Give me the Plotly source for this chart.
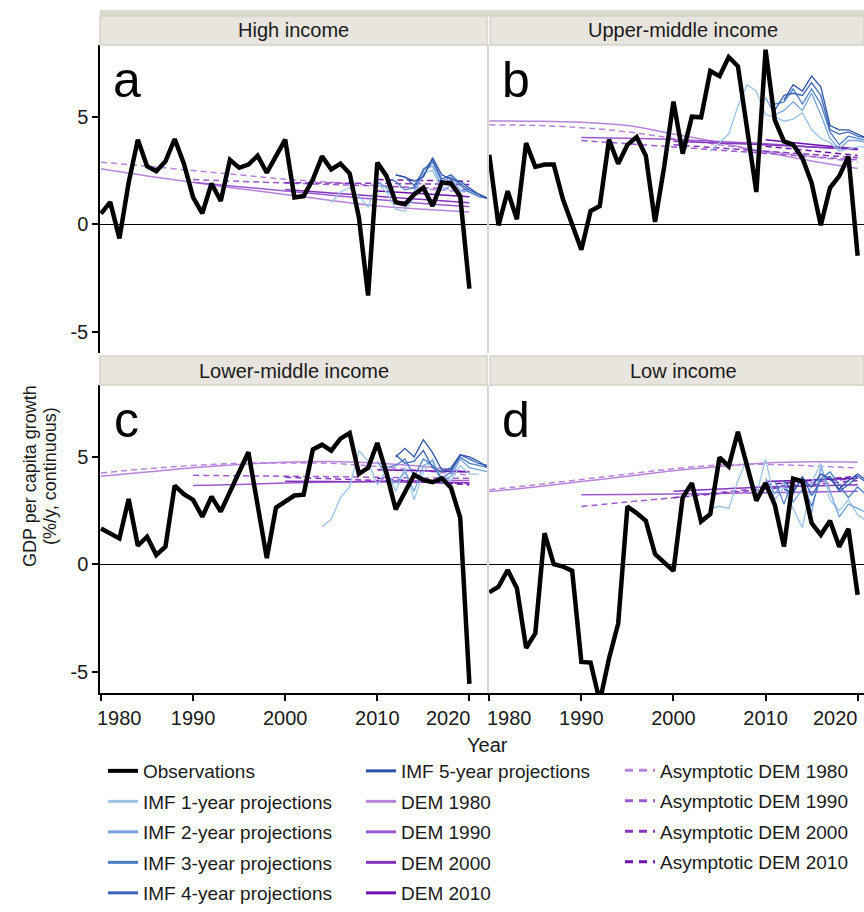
import plotly.graph_objects as go

W, H = 864, 912
FONT = "Liberation Sans, Arial, Helvetica, sans-serif"

# ---------------- data ----------------
YEARS = list(range(1980, 2021))

OBS_HIGH = [0.5, 1.03, -0.66, 1.94, 3.94, 2.7, 2.47, 2.93, 3.97, 2.82,
            1.25, 0.51, 1.9, 1.08, 3.0, 2.63, 2.78, 3.19, 2.4, 3.16,
            3.94, 1.25, 1.31, 2.08, 3.16, 2.55, 2.82, 2.36, 0.32, -3.32,
            2.87, 2.24, 1.02, 0.93, 1.39, 1.7, 0.85, 1.94, 1.9, 1.31, -3.0]
OBS_UPPER = [3.24, -0.05, 1.54, 0.23, 3.78, 2.67, 2.78, 2.78, 1.16, -0.08,
             -1.19, 0.62, 0.85, 3.94, 2.82, 3.7, 4.06, 3.19, 0.11, 2.7,
             5.71, 3.29, 5.01, 4.98, 7.14, 6.9, 7.79, 7.36, 4.55, 1.5,
             8.13, 4.86, 3.86, 3.7, 3.08, 1.93, -0.05, 1.7, 2.24, 3.16, -1.47]
OBS_LOWER = [1.67, 1.45, 1.2, 3.04, 0.86, 1.28, 0.43, 0.82, 3.66, 3.26,
             3.0, 2.21, 3.15, 2.45, 3.38, 4.24, 5.22, 2.77, 0.28, 2.64,
             2.92, 3.2, 3.24, 5.34, 5.57, 5.29, 5.85, 6.11, 4.21, 4.49,
             5.65, 4.24, 2.55, 3.38, 4.17, 3.93, 3.82, 4.0, 3.57, 2.17, -5.58]
OBS_LOW = [-1.31, -1.05, -0.27, -1.12, -3.9, -3.22, 1.45, 0.0, -0.11, -0.31,
           -4.55, -4.58, -6.4, -4.39, -2.76, 2.69, 2.38, 2.02, 0.47, 0.05,
           -0.31, 3.11, 3.78, 1.99, 2.34, 4.98, 4.56, 6.17, 4.49, 2.96,
           3.78, 2.77, 0.82, 3.99, 3.86, 1.92, 1.37, 2.02, 0.82, 1.65, -1.43]

DEM_YEARS_1980 = [1980, 1985, 1990, 1995, 2000, 2005, 2010, 2015, 2020]
DEM_YEARS_1990 = [1990, 1995, 2000, 2005, 2010, 2015, 2020]
DEM_YEARS_2000 = [2000, 2005, 2010, 2015, 2020]
DEM_YEARS_2010 = [2010, 2015, 2020]

# High income
DEM1980_HIGH = [2.58, 2.25, 1.95, 1.65, 1.39, 1.1, 0.85, 0.7, 0.57]
DEM1990_HIGH = [1.96, 1.75, 1.55, 1.35, 1.15, 0.97, 0.82]
DEM2000_HIGH = [1.62, 1.45, 1.3, 1.15, 1.0]
DEM2010_HIGH = [1.55, 1.42, 1.28]
ASY1980_HIGH = [2.89, 2.7, 2.5, 2.3, 2.1, 1.95, 1.8, 1.65, 1.5]
ASY1990_HIGH = [2.08, 2.0, 1.92, 1.85, 1.78, 1.7, 1.62]
ASY2000_HIGH = [1.93, 1.92, 1.9, 1.88, 1.85]
ASY2010_HIGH = [2.08, 2.04, 2.0]
# Upper-middle income
DEM1980_UPPER = [4.81, 4.8, 4.75, 4.6, 4.2, 3.8, 3.35, 2.95, 2.6]
DEM1990_UPPER = [4.04, 4.0, 3.95, 3.85, 3.75, 3.6, 3.47]
DEM2000_UPPER = [3.86, 3.78, 3.7, 3.6, 3.5]
DEM2010_UPPER = [3.93, 3.72, 3.5]
ASY1980_UPPER = [4.63, 4.6, 4.5, 4.3, 4.0, 3.7, 3.4, 3.15, 2.9]
ASY1990_UPPER = [3.9, 3.75, 3.6, 3.45, 3.3, 3.15, 3.0]
ASY2000_UPPER = [3.7, 3.55, 3.4, 3.25, 3.1]
ASY2010_UPPER = [3.63, 3.42, 3.2]
# Lower-middle income
DEM1980_LOWER = [4.1, 4.3, 4.5, 4.65, 4.75, 4.78, 4.7, 4.55, 4.3]
DEM1990_LOWER = [3.67, 3.72, 3.78, 3.83, 3.87, 3.9, 3.9]
DEM2000_LOWER = [3.86, 3.85, 3.84, 3.82, 3.8]
DEM2010_LOWER = [4.4, 4.35, 4.3]
ASY1980_LOWER = [4.25, 4.45, 4.6, 4.7, 4.72, 4.7, 4.55, 4.35, 4.15]
ASY1990_LOWER = [4.14, 4.12, 4.1, 4.08, 4.05, 4.02, 4.0]
ASY2000_LOWER = [4.05, 3.98, 3.9, 3.82, 3.75]
ASY2010_LOWER = [4.0, 3.85, 3.7]
# Low income
DEM1980_LOW = [3.39, 3.6, 3.85, 4.1, 4.35, 4.55, 4.72, 4.77, 4.75]
DEM1990_LOW = [3.24, 3.25, 3.27, 3.3, 3.33, 3.36, 3.4]
DEM2000_LOW = [3.4, 3.5, 3.6, 3.65, 3.7]
DEM2010_LOW = [3.85, 3.92, 4.0]
ASY1980_LOW = [3.47, 3.7, 3.95, 4.2, 4.45, 4.62, 4.65, 4.58, 4.48]
ASY1990_LOW = [2.69, 2.9, 3.1, 3.35, 3.55, 3.8, 4.0]
ASY2000_LOW = [3.1, 3.3, 3.5, 3.7, 3.9]
ASY2010_LOW = [3.7, 3.9, 4.1]

# IMF projections by horizon: first year + yearly values
IMF1_HIGH_START, IMF1_HIGH = 2005, [1.0, 1.5, 1.7, 1.3, 0.8, 1.9, 1.5, 0.7, 0.6, 1.3, 2.4, 2.5, 1.6, 1.8, 1.5, 1.6, 1.3, 1.2]
IMF2_HIGH_START, IMF2_HIGH = 2010, [2.0, 1.7, 1.0, 0.9, 1.5, 2.6, 2.7, 1.8, 2.1, 1.6, 1.5, 1.3, 1.2]
IMF3_HIGH_START, IMF3_HIGH = 2011, [2.1, 2.0, 1.6, 1.7, 2.3, 2.9, 2.0, 2.2, 1.8, 1.5, 1.3, 1.2]
IMF4_HIGH_START, IMF4_HIGH = 2012, [2.3, 2.2, 1.8, 2.5, 3.0, 2.1, 2.3, 1.9, 1.6, 1.4, 1.2]
IMF5_HIGH_START, IMF5_HIGH = 2012, [2.3, 2.2, 2.0, 2.2, 3.1, 2.3, 2.1, 2.0, 1.7, 1.4, 1.2]

IMF1_UPPER_START, IMF1_UPPER = 2004, [3.4, 3.8, 4.2, 5.5, 6.5, 6.2, 5.1, 5.0, 4.8, 4.9, 5.2, 4.4, 4.0, 3.8, 3.4, 3.5, 3.6, 3.6]
IMF2_UPPER_START, IMF2_UPPER = 2010, [5.9, 5.1, 5.3, 5.7, 5.3, 6.1, 5.1, 4.0, 3.5, 3.9, 3.9, 3.8]
IMF3_UPPER_START, IMF3_UPPER = 2011, [5.6, 5.7, 6.3, 5.6, 6.3, 5.6, 4.3, 3.7, 4.1, 4.0, 3.9]
IMF4_UPPER_START, IMF4_UPPER = 2011, [5.3, 6.0, 6.1, 6.0, 6.6, 6.0, 4.4, 4.2, 4.3, 4.1, 4.0]
IMF5_UPPER_START, IMF5_UPPER = 2012, [5.8, 6.5, 6.2, 6.9, 6.4, 4.6, 4.4, 4.4, 4.2, 4.0]

IMF1_LOWER_START, IMF1_LOWER = 2004, [1.75, 2.1, 3.1, 3.6, 5.3, 4.8, 3.7, 4.4, 3.4, 4.5, 3.0, 4.3, 4.9, 4.0, 3.9, 4.6, 4.2, 4.2]
IMF2_LOWER_START, IMF2_LOWER = 2010, [4.8, 4.1, 3.8, 4.3, 3.4, 4.6, 4.8, 3.8, 4.1, 4.9, 4.5, 4.4, 4.3]
IMF3_LOWER_START, IMF3_LOWER = 2011, [4.5, 4.6, 4.9, 4.1, 4.9, 4.6, 4.0, 4.3, 5.0, 4.7, 4.6, 4.5]
IMF4_LOWER_START, IMF4_LOWER = 2012, [5.1, 4.7, 4.8, 5.3, 4.5, 4.3, 4.5, 5.1, 4.9, 4.7, 4.6]
IMF5_LOWER_START, IMF5_LOWER = 2012, [5.0, 5.4, 5.0, 5.8, 5.2, 4.4, 4.4, 5.1, 5.0, 4.8, 4.5]

IMF1_LOW_START, IMF1_LOW = 2004, [2.6, 2.7, 2.6, 3.9, 4.9, 3.2, 4.9, 3.0, 3.6, 2.6, 1.7, 3.8, 4.7, 3.0, 2.5, 3.0, 2.3, 2.0]
IMF2_LOW_START, IMF2_LOW = 2010, [4.0, 3.3, 3.8, 2.9, 3.5, 2.4, 4.5, 3.4, 2.2, 2.8, 2.6, 2.4]
IMF3_LOW_START, IMF3_LOW = 2011, [3.9, 2.8, 4.0, 3.8, 2.7, 4.0, 4.3, 3.7, 3.1, 3.6, 3.2]
IMF4_LOW_START, IMF4_LOW = 2012, [3.5, 3.3, 4.1, 3.2, 3.9, 4.1, 3.4, 3.7, 4.1, 3.8]
IMF5_LOW_START, IMF5_LOW = 2012, [3.9, 3.4, 4.0, 3.6, 4.2, 4.0, 3.5, 3.9, 4.2, 3.9]

PANEL_TITLES = ["High income", "Upper-middle income", "Lower-middle income", "Low income"]
PANEL_LETTERS = ["a", "b", "c", "d"]
X_TICKS = [1980, 1990, 2000, 2010, 2020]
Y_TICKS = [-5, 0, 5]
Y_TICK_TEXT = ["-5", "0", "5"]

IMF_NAMES = ["IMF 1-year projections", "IMF 2-year projections", "IMF 3-year projections",
             "IMF 4-year projections", "IMF 5-year projections"]
IMF_COLORS = ["#9DC3E6", "#77A3DA", "#4E7BC6", "#3D65B7", "#2E53A6"]
DEM_NAMES = ["DEM 1980", "DEM 1990", "DEM 2000", "DEM 2010"]
ASY_NAMES = ["Asymptotic DEM 1980", "Asymptotic DEM 1990", "Asymptotic DEM 2000", "Asymptotic DEM 2010"]
DEM_COLORS = ["#B784DA", "#9C5BD0", "#8434BD", "#6C12AD"]
DEM_YEARS = [DEM_YEARS_1980, DEM_YEARS_1990, DEM_YEARS_2000, DEM_YEARS_2010]

panels = [
    dict(obs=OBS_HIGH,
         dem=[DEM1980_HIGH, DEM1990_HIGH, DEM2000_HIGH, DEM2010_HIGH],
         asy=[ASY1980_HIGH, ASY1990_HIGH, ASY2000_HIGH, ASY2010_HIGH],
         imf=[(IMF1_HIGH_START, IMF1_HIGH), (IMF2_HIGH_START, IMF2_HIGH), (IMF3_HIGH_START, IMF3_HIGH),
              (IMF4_HIGH_START, IMF4_HIGH), (IMF5_HIGH_START, IMF5_HIGH)]),
    dict(obs=OBS_UPPER,
         dem=[DEM1980_UPPER, DEM1990_UPPER, DEM2000_UPPER, DEM2010_UPPER],
         asy=[ASY1980_UPPER, ASY1990_UPPER, ASY2000_UPPER, ASY2010_UPPER],
         imf=[(IMF1_UPPER_START, IMF1_UPPER), (IMF2_UPPER_START, IMF2_UPPER), (IMF3_UPPER_START, IMF3_UPPER),
              (IMF4_UPPER_START, IMF4_UPPER), (IMF5_UPPER_START, IMF5_UPPER)]),
    dict(obs=OBS_LOWER,
         dem=[DEM1980_LOWER, DEM1990_LOWER, DEM2000_LOWER, DEM2010_LOWER],
         asy=[ASY1980_LOWER, ASY1990_LOWER, ASY2000_LOWER, ASY2010_LOWER],
         imf=[(IMF1_LOWER_START, IMF1_LOWER), (IMF2_LOWER_START, IMF2_LOWER), (IMF3_LOWER_START, IMF3_LOWER),
              (IMF4_LOWER_START, IMF4_LOWER), (IMF5_LOWER_START, IMF5_LOWER)]),
    dict(obs=OBS_LOW,
         dem=[DEM1980_LOW, DEM1990_LOW, DEM2000_LOW, DEM2010_LOW],
         asy=[ASY1980_LOW, ASY1990_LOW, ASY2000_LOW, ASY2010_LOW],
         imf=[(IMF1_LOW_START, IMF1_LOW), (IMF2_LOW_START, IMF2_LOW), (IMF3_LOW_START, IMF3_LOW),
              (IMF4_LOW_START, IMF4_LOW), (IMF5_LOW_START, IMF5_LOW)]),
]

# ---------------- geometry (pixels -> paper fractions) ----------------
def px_x(p):
    return p / W

def px_y(p):
    return 1 - p / H

X_DOM = [[px_x(100), px_x(488)], [px_x(489), 1.0], [px_x(100), px_x(488)], [px_x(489), 1.0]]
Y_DOM = [[px_y(353), px_y(45)], [px_y(353), px_y(45)], [px_y(693), px_y(385)], [px_y(693), px_y(385)]]
X_RANGES = [[1979.89, 2022.02], [1979.97, 2020.69], [1979.89, 2022.02], [1979.97, 2020.69]]
Y_RANGE = [-6.0, 8.35]

fig = go.Figure()
suffix = ["", "2", "3", "4"]

for i, p in enumerate(panels):
    xa, ya = "x" + suffix[i], "y" + suffix[i]
    for k in range(4):
        fig.add_trace(go.Scatter(x=DEM_YEARS[k], y=p["asy"][k], mode="lines", xaxis=xa, yaxis=ya,
                                 line=dict(color=DEM_COLORS[k], width=1.5, dash="6px,4px", shape="spline"),
                                 showlegend=False, hoverinfo="skip"))
        fig.add_trace(go.Scatter(x=DEM_YEARS[k], y=p["dem"][k], mode="lines", xaxis=xa, yaxis=ya,
                                 line=dict(color=DEM_COLORS[k], width=1.5, shape="spline"),
                                 showlegend=False, hoverinfo="skip"))
    for k, (start, vals) in enumerate(p["imf"]):
        fig.add_trace(go.Scatter(x=list(range(start, start + len(vals))), y=vals, mode="lines",
                                 xaxis=xa, yaxis=ya, line=dict(color=IMF_COLORS[k], width=1.3),
                                 showlegend=False, hoverinfo="skip"))
    fig.add_trace(go.Scatter(x=YEARS, y=p["obs"], mode="lines", xaxis=xa, yaxis=ya,
                             line=dict(color="black", width=4.5), showlegend=False, hoverinfo="skip"))

def legend_entry(name, color, width, dash, legend):
    fig.add_trace(go.Scatter(x=[None], y=[None], mode="lines", name=name, legend=legend,
                             legendgroup=name, line=dict(color=color, width=width, dash=dash),
                             hoverinfo="skip"))

legend_entry("Observations", "black", 4, "solid", "legend")
for k in range(4):
    legend_entry(IMF_NAMES[k], IMF_COLORS[k], 3, "solid", "legend")
legend_entry(IMF_NAMES[4], IMF_COLORS[4], 3, "solid", "legend2")
for k in range(4):
    legend_entry(DEM_NAMES[k], DEM_COLORS[k], 3, "solid", "legend2")
for k in range(4):
    legend_entry(ASY_NAMES[k], DEM_COLORS[k], 3, "8px,6px", "legend3")

layout = dict(
    width=W, height=H, margin=dict(l=0, r=0, t=0, b=0),
    paper_bgcolor="white", plot_bgcolor="white",
    font=dict(family=FONT, size=20, color="#1a1a1a"),
    showlegend=True,
)

for i in range(4):
    s = suffix[i]
    bottom = i >= 2
    left = i % 2 == 0
    layout["xaxis" + s] = dict(
        domain=X_DOM[i], range=X_RANGES[i], anchor="y" + s,
        showgrid=False, zeroline=False,
        showline=bottom, linecolor="black", linewidth=1.5,
        ticks="outside" if bottom else "", ticklen=6, tickcolor="black", tickwidth=1.5,
        tickvals=X_TICKS, ticktext=["", "1990", "2000", "2010", ""],
        showticklabels=bottom, tickfont=dict(size=20, color="#1a1a1a"),
    )
    layout["yaxis" + s] = dict(
        domain=Y_DOM[i], range=Y_RANGE, anchor="x" + s,
        showgrid=False, zeroline=True, zerolinecolor="black", zerolinewidth=1.2,
        showline=True, linecolor="black" if left else "#D6D6D6", linewidth=1.5,
        ticks="outside" if left else "", ticklen=6, tickcolor="black", tickwidth=1.5,
        tickvals=Y_TICKS, ticktext=Y_TICK_TEXT,
        showticklabels=left, tickfont=dict(size=20, color="#1a1a1a"),
    )

# legends anchored to the bottom edge so they stay inside the figure
LEG_FONT = dict(family=FONT, size=19, color="#1a1a1a")
LEG_GAP = 2.8
for name, xp in [("legend", 103), ("legend2", 361), ("legend3", 620)]:
    layout[name] = dict(x=px_x(xp), y=0, xanchor="left", yanchor="bottom",
                        orientation="v", font=LEG_FONT, bgcolor="rgba(0,0,0,0)",
                        tracegroupgap=LEG_GAP, itemwidth=30)
layout["legend3"]["y"] = px_y(912 - 30.5)

shapes = []
shapes.append(dict(type="rect", xref="paper", yref="paper", x0=px_x(100), x1=1.0,
                   y0=px_y(16), y1=px_y(10), fillcolor="#DCD9CF", line=dict(width=0), layer="above"))
strip_boxes = [(100, 487, 16, 45), (490, 864, 16, 45), (100, 487, 356, 385), (490, 864, 356, 385)]
for (x0, x1, y0, y1) in strip_boxes:
    shapes.append(dict(type="rect", xref="paper", yref="paper", x0=px_x(x0), x1=px_x(x1),
                       y0=px_y(y1), y1=px_y(y0), fillcolor="#E8E5DE",
                       line=dict(color="#D5D2C8", width=1.5), layer="above"))
layout["shapes"] = shapes

ann = []
title_cx = [(100 + 487) / 2, 683, (100 + 487) / 2, 683]
for i, (x0, x1, y0, y1) in enumerate(strip_boxes):
    ann.append(dict(text=PANEL_TITLES[i], xref="paper", yref="paper", x=px_x(title_cx[i]),
                    y=px_y((y0 + y1) / 2), xanchor="center", yanchor="middle", showarrow=False,
                    font=dict(family=FONT, size=20, color="#1a1a1a")))
letter_pos = [(111, 80), (500, 80), (112, 420), (500, 420)]
for i, (lx, ly) in enumerate(letter_pos):
    ann.append(dict(text=PANEL_LETTERS[i], xref="paper", yref="paper", x=px_x(lx), y=px_y(ly),
                    xanchor="left", yanchor="middle", showarrow=False,
                    font=dict(family=FONT, size=50, color="black")))
ann.append(dict(text="GDP per capita growth", xref="paper", yref="paper", x=px_x(30), y=px_y(476),
                xanchor="center", yanchor="middle", textangle=-90, showarrow=False,
                font=dict(family=FONT, size=18, color="#1a1a1a")))
ann.append(dict(text="(%/y, continuous)", xref="paper", yref="paper", x=px_x(50), y=px_y(476),
                xanchor="center", yanchor="middle", textangle=-90, showarrow=False,
                font=dict(family=FONT, size=18, color="#1a1a1a")))
ann.append(dict(text="Year", xref="paper", yref="paper", x=px_x(487), y=px_y(745),
                xanchor="center", yanchor="middle", showarrow=False,
                font=dict(family=FONT, size=20, color="#1a1a1a")))
for s, sh1, sh2 in [("3", -6, 4), ("4", -4, 2)]:
    ann.append(dict(text="1980", xref="x" + s, yref="paper", x=1980, y=px_y(718), xshift=sh1,
                    xanchor="left", yanchor="middle", showarrow=False,
                    font=dict(family=FONT, size=20, color="#1a1a1a")))
    ann.append(dict(text="2020", xref="x" + s, yref="paper", x=2020, y=px_y(718), xshift=sh2,
                    xanchor="right", yanchor="middle", showarrow=False,
                    font=dict(family=FONT, size=20, color="#1a1a1a")))
layout["annotations"] = ann

fig.update_layout(**layout)
fig.write_html("out.html", config={"displayModeBar": False},
               post_script="document.body.style.margin='0px';document.body.style.overflow='hidden';")
